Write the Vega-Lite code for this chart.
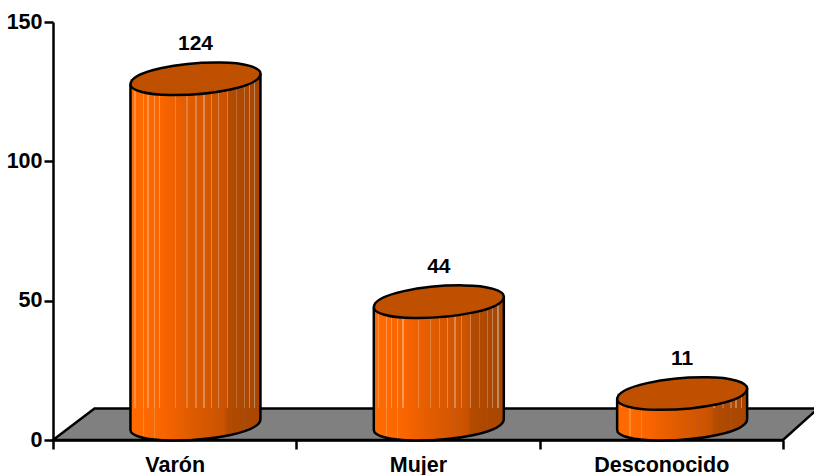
{
"$schema":"https://vega.github.io/schema/vega-lite/v6.json",
"width":730,"height":418,
"autosize":"none",
"padding":{"left":53,"top":22,"right":31,"bottom":35},
"background":"white",
"config":{"view":{"stroke":null}},
"data":{"values":[{"category":"Varón","value":124},{"category":"Mujer","value":44},{"category":"Desconocido","value":11}]},
"encoding":{
 "x":{"field":"category","type":"nominal","sort":["Varón","Mujer","Desconocido"],"scale":{"paddingInner":0,"paddingOuter":0},
  "axis":{"title":null,"labelAngle":0,"tickBand":"extent","domainColor":"#000","domainWidth":2.5,"tickColor":"#000","tickWidth":2.5,"tickSize":9,"labelColor":"#000","labelFont":"Liberation Sans","labelFontWeight":"bold","labelFontSize":21.5,"labelPadding":5,"grid":false}},
 "y":{"field":"value","type":"quantitative","scale":{"domain":[0,150],"nice":false},
  "axis":{"title":null,"values":[0,50,100,150],"domainColor":"#000","domainWidth":2.5,"tickColor":"#000","tickWidth":2.5,"tickSize":9,"labelColor":"#000","labelFont":"Liberation Sans","labelFontWeight":"bold","labelFontSize":21.5,"labelPadding":2,"grid":false}}
},
"layer":[
 {"data":{"values":[{"category":"Mujer","value":0}]},
  "mark":{"type":"point","filled":true,"opacity":1,"size":4,"fill":"#808080","stroke":"#000","strokeWidth":2.5,"clip":false,"shape":"M-365,0 L-323.5,-31.5 L400,-31.5 L365,0 Z"}},
 {"transform":[{"calculate":"0","as":"base"}],
  "encoding":{"y":{"field":"base","type":"quantitative"}},
  "mark":{"type":"point","filled":true,"opacity":1,"size":4,"xOffset":20.8,"yOffset":-15.5,"strokeWidth":0,
   "fill":{"gradient":"linear","x1":0,"x2":1,"y1":0,"y2":0,"stops":[
    {"offset":0,"color":"#ff6a00"},
    {"offset":0.095,"color":"#fe6900"},{"offset":0.095,"color":"#f58a30"},{"offset":0.105,"color":"#f58a30"},{"offset":0.105,"color":"#fe6900"},
    {"offset":0.18,"color":"#fb6700"},{"offset":0.18,"color":"#f0852a"},{"offset":0.19,"color":"#f0852a"},{"offset":0.19,"color":"#fb6700"},
    {"offset":0.25,"color":"#f96400"},{"offset":0.45,"color":"#e05c00"},
    {"offset":0.62,"color":"#d25600"},{"offset":0.62,"color":"#c85812"},{"offset":0.63,"color":"#c85812"},{"offset":0.63,"color":"#d25600"},
    {"offset":0.72,"color":"#c95200"},{"offset":0.75,"color":"#b34b00"},
    {"offset":0.87,"color":"#ad4800"},{"offset":0.87,"color":"#a84d12"},{"offset":0.88,"color":"#a84d12"},{"offset":0.88,"color":"#ad4800"},
    {"offset":1,"color":"#a84600"}]},
   "shape":"M-65,-17 L65,-17 L65,-5.5 C65,8 15,16.5 -25,16 C-50,16 -65,11 -65,5.5 Z"}},
 {"mark":{"type":"bar","width":130,"xOffset":20.8,"yOffset":-15.5,"y2Offset":-32,"strokeWidth":0,
   "fill":{"gradient":"linear","x1":0,"x2":1,"y1":0,"y2":0,"stops":[
    {"offset":0,"color":"#ff6a00"},
    {"offset":0.03,"color":"#ff6a00"},{"offset":0.03,"color":"#ff9040"},{"offset":0.04,"color":"#ff9040"},{"offset":0.04,"color":"#ff6a00"},
    {"offset":0.095,"color":"#fe6900"},{"offset":0.095,"color":"#ff9448"},{"offset":0.105,"color":"#ff9448"},{"offset":0.105,"color":"#fe6900"},
    {"offset":0.13,"color":"#fd6800"},{"offset":0.13,"color":"#ff9448"},{"offset":0.14,"color":"#ff9448"},{"offset":0.14,"color":"#fd6800"},
    {"offset":0.18,"color":"#fb6700"},{"offset":0.18,"color":"#fc9850"},{"offset":0.19,"color":"#fc9850"},{"offset":0.19,"color":"#fb6700"},
    {"offset":0.22,"color":"#fa6500"},{"offset":0.22,"color":"#fb9a58"},{"offset":0.23,"color":"#fb9a58"},{"offset":0.23,"color":"#fa6500"},
    {"offset":0.34,"color":"#ee6000"},{"offset":0.34,"color":"#ee8435"},{"offset":0.35,"color":"#ee8435"},{"offset":0.35,"color":"#ee6000"},
    {"offset":0.43,"color":"#e25d00"},{"offset":0.43,"color":"#e28035"},{"offset":0.44,"color":"#e28035"},{"offset":0.44,"color":"#e25d00"},
    {"offset":0.5,"color":"#dc5a00"},{"offset":0.5,"color":"#de8240"},{"offset":0.51,"color":"#de8240"},{"offset":0.51,"color":"#dc5a00"},
    {"offset":0.56,"color":"#d75800"},{"offset":0.56,"color":"#de8c50"},{"offset":0.57,"color":"#de8c50"},{"offset":0.57,"color":"#d75800"},
    {"offset":0.62,"color":"#d25600"},{"offset":0.62,"color":"#da8850"},{"offset":0.63,"color":"#da8850"},{"offset":0.63,"color":"#d25600"},
    {"offset":0.67,"color":"#ce5400"},{"offset":0.67,"color":"#d68550"},{"offset":0.68,"color":"#d68550"},{"offset":0.68,"color":"#ce5400"},
    {"offset":0.72,"color":"#c95200"},{"offset":0.74,"color":"#c95200"},{"offset":0.74,"color":"#d08048"},{"offset":0.75,"color":"#d08048"},{"offset":0.75,"color":"#b34b00"},
    {"offset":0.81,"color":"#b04a00"},{"offset":0.81,"color":"#bc6c30"},{"offset":0.82,"color":"#bc6c30"},{"offset":0.82,"color":"#b04a00"},
    {"offset":0.87,"color":"#ad4800"},{"offset":0.87,"color":"#bc7444"},{"offset":0.88,"color":"#bc7444"},{"offset":0.88,"color":"#ad4800"},
    {"offset":0.91,"color":"#ab4700"},{"offset":0.91,"color":"#c08458"},{"offset":0.92,"color":"#c08458"},{"offset":0.92,"color":"#ab4700"},
    {"offset":0.95,"color":"#a94600"},{"offset":0.95,"color":"#c08a60"},{"offset":0.96,"color":"#c08a60"},{"offset":0.96,"color":"#a94600"},
    {"offset":1,"color":"#a84600"}]}},
  "encoding":{"y2":{"datum":0}}},
 {"mark":{"type":"rule","color":"#000","strokeWidth":2.5,"xOffset":-44.2,"yOffset":-10,"y2Offset":-10},"encoding":{"y2":{"datum":0}}},
 {"mark":{"type":"rule","color":"#000","strokeWidth":2.5,"xOffset":85.8,"yOffset":-21,"y2Offset":-21},"encoding":{"y2":{"datum":0}}},
 {"transform":[{"calculate":"0","as":"base"}],
  "encoding":{"y":{"field":"base","type":"quantitative"}},
  "mark":{"type":"point","filled":false,"opacity":1,"size":4,"xOffset":20.8,"yOffset":-15.5,"stroke":"#000","strokeWidth":2.5,
   "shape":"M65,-5.5 C65,8 15,16.5 -25,16 C-50,16 -65,11 -65,5.5"}},
 {"mark":{"type":"point","filled":true,"opacity":1,"size":4,"xOffset":20.8,"yOffset":-15.5,"fill":"#bf5000","stroke":"#000","strokeWidth":2.5,
   "shape":"M-65,5.5 C-65,-8 -15,-17 25,-16.5 C50,-16.5 65,-11 65,-5.5 C65,8 15,16.5 -25,16 C-50,16 -65,11 -65,5.5 Z"}},
 {"mark":{"type":"text","font":"Liberation Sans","fontWeight":"bold","fontSize":21,"color":"#000","xOffset":20.8,"yOffset":-50},
  "encoding":{"text":{"field":"value","type":"quantitative"}}}
]
}
